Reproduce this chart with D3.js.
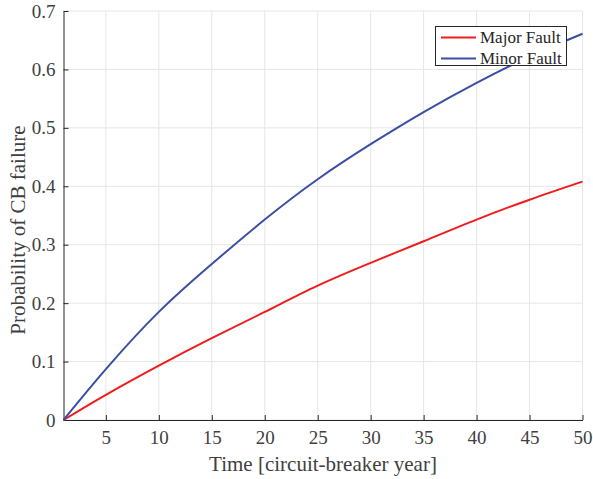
<!DOCTYPE html>
<html>
<head>
<meta charset="utf-8">
<script src="https://cdn.jsdelivr.net/npm/d3@7"></script>
<style>
    body { margin: 0; background: #fff; }
    svg text { font-family: "Liberation Serif", "Times New Roman", serif; fill: #404040; }
</style>
</head>
<body>
<script>
var years = [1, 5, 10, 15, 20, 25, 30, 35, 40, 45, 50];

// Probability of failure per series
var majorFault = [0, 0.043, 0.093, 0.140, 0.185, 0.230, 0.269, 0.306, 0.343, 0.377, 0.408];
var minorFault = [0, 0.087, 0.185, 0.267, 0.343, 0.412, 0.472, 0.527, 0.577, 0.622, 0.661];

var seriesNames = ["Major Fault", "Minor Fault"];
var seriesColors = ["#f01c1c", "#3a4fa3"];

var xTicks = [5, 10, 15, 20, 25, 30, 35, 40, 45, 50];
var yTicks = [0, 0.1, 0.2, 0.3, 0.4, 0.5, 0.6, 0.7];

window.onload = drawChart();

function drawChart(){

    var width = 593,
        height = 479;
    var margin = {left: 63.5, right: 10.5, top: 11, bottom: 59};

    var svg = d3.select("body")
        .append("svg")
        .attr("width", width)
        .attr("height", height);

    var x = d3.scaleLinear()
        .domain([1, 50])
        .range([margin.left, width - margin.right]);

    var y = d3.scaleLinear()
        .domain([0, 0.7])
        .range([height - margin.bottom, margin.top]);

    // Grid lines
    svg.append("g")
        .selectAll("line.vgrid")
        .data(xTicks)
        .enter()
        .append("line")
        .attr("x1", function(d){ return x(d); })
        .attr("x2", function(d){ return x(d); })
        .attr("y1", y(0))
        .attr("y2", y(0.7))
        .attr("stroke", "#e6e6e6")
        .attr("stroke-width", 1);

    svg.append("g")
        .selectAll("line.hgrid")
        .data(yTicks)
        .enter()
        .append("line")
        .attr("x1", x(1))
        .attr("x2", x(50))
        .attr("y1", function(d){ return y(d); })
        .attr("y2", function(d){ return y(d); })
        .attr("stroke", "#e6e6e6")
        .attr("stroke-width", 1);

    // Axes, ticks point inward
    var xAxis = svg.append("g")
        .attr("transform", "translate(0," + y(0) + ")")
        .call(d3.axisBottom(x).tickValues(xTicks).tickSizeInner(-5).tickSizeOuter(0).tickPadding(11));

    var yAxis = svg.append("g")
        .attr("transform", "translate(" + x(1) + ",0)")
        .call(d3.axisLeft(y).tickValues(yTicks).tickSizeInner(-5).tickSizeOuter(0).tickPadding(8)
            .tickFormat(function(d){ return d === 0 ? "0" : d3.format(".1f")(d); }));

    [xAxis, yAxis].forEach(function(a){
        a.attr("font-family", null).attr("font-size", null);
        a.select(".domain").attr("stroke", "#262626");
        a.selectAll(".tick line").attr("stroke", "#262626");
        a.selectAll(".tick text")
            .style("font-size", "19px")
            .style("font-family", "'Liberation Serif', serif")
            .style("fill", "#404040");
    });

    // Curves
    var line = d3.line()
        .x(function(d){ return x(d[0]); })
        .y(function(d){ return y(d[1]); })
        .curve(d3.curveNatural);

    [majorFault, minorFault].forEach(function(vals, i){
        svg.append("path")
            .datum(years.map(function(t, j){ return [t, vals[j]]; }))
            .attr("fill", "none")
            .attr("stroke", seriesColors[i])
            .attr("stroke-width", 2)
            .attr("d", line);
    });

    // Axis titles
    svg.append("text")
        .attr("x", x(25.5))
        .attr("y", 471)
        .attr("text-anchor", "middle")
        .style("font-size", "21px")
        .text("Time [circuit-breaker year]");

    svg.append("text")
        .attr("transform", "translate(25," + y(0.325) + ") rotate(-90)")
        .attr("text-anchor", "middle")
        .style("font-size", "21px")
        .text("Probability of CB failure");

    // Legend
    var legend = svg.append("g");
    legend.append("rect")
        .attr("x", 435.5)
        .attr("y", 26.5)
        .attr("width", 131)
        .attr("height", 39)
        .attr("fill", "#fff")
        .attr("stroke", "#262626")
        .attr("stroke-width", 1);

    seriesNames.forEach(function(name, i){
        var ly = 37.5 + i * 21;
        legend.append("line")
            .attr("x1", 441)
            .attr("x2", 476)
            .attr("y1", ly)
            .attr("y2", ly)
            .attr("stroke", seriesColors[i])
            .attr("stroke-width", 2);
        legend.append("text")
            .attr("x", 480)
            .attr("y", ly + 5.5)
            .style("font-size", "17px")
            .style("fill", "#262626")
            .text(name);
    });
}
</script>
</body>
</html>
